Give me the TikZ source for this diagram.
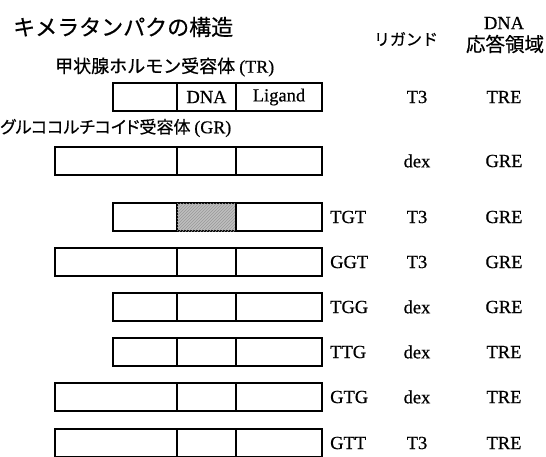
\documentclass[tikz,border=0pt]{standalone}
\usepackage{fontspec}
\setmainfont{Liberation Serif}[FakeBold=0.6]
\newfontfamily\jp{Noto Sans CJK JP}[FakeBold=0.5]
\newfontfamily\jpp{Noto Sans CJK JP}[RawFeature=+palt,FakeBold=0.5]
\usetikzlibrary{patterns}
\begin{document}
\begin{tikzpicture}[x=1pt,y=-1pt,
  cell/.style={draw,line width=2.3pt,minimum height=28pt,inner sep=0pt,outer sep=0pt},
  lab/.style={font=\fontsize{18.5}{20}\selectfont,inner sep=0pt},
  codelab/.style={lab,anchor=west},
  jplab/.style={inner sep=0pt,anchor=west}]
\useasboundingbox (0,0) rectangle (546,456);
% title and headers
\node[font=\jp\fontsize{22}{24}\selectfont,anchor=west,inner sep=0pt] (title) at (13,27) {キメラタンパクの構造};
\node[font=\jp\fontsize{16}{18}\selectfont,inner sep=0pt] (hlig) at (406,39) {リガンド};
\node[lab] (hdna) at (504,23) {DNA};
\node[font=\jp\fontsize{19.5}{20}\selectfont,inner sep=0pt] (hresp) at (505,44) {応答領域};
\node[jplab,font=\jp\fontsize{18}{20}\selectfont] (trname) at (55,67) {甲状腺ホルモン受容体 {\rmfamily\fontsize{18}{20}\selectfont(TR)}};
\node[jplab,font=\jpp\fontsize{17}{20}\selectfont] (grname) at (0,128) {グルココルチコイド受容体 {\rmfamily\fontsize{18}{20}\selectfont(GR)}};
% rows
\foreach \nm/\yy/\long/\code/\lig/\resp/\hatch in {
  tr/97/0//T3/TRE/0, gr/161/1//dex/GRE/0, tgt/217/0/TGT/T3/GRE/1,
  ggt/262/1/GGT/T3/GRE/0, tgg/307/0/TGG/dex/GRE/0, ttg/352/0/TTG/dex/TRE/0,
  gtg/397/1/GTG/dex/TRE/0, gtt/443/1/GTT/T3/TRE/0}{
  \ifnum\long=1
    \node[cell,minimum width=122pt,anchor=east] (\nm a) at (177,\yy) {};
  \else
    \node[cell,minimum width=64pt,anchor=east] (\nm a) at (177,\yy) {};
  \fi
  \ifnum\hatch=1
    \node[cell,minimum width=59pt,anchor=west,fill=black!25,postaction={pattern=north east lines,pattern color=black!40}] (\nm b) at (\nm a.east) {};
  \else
    \node[cell,minimum width=59pt,anchor=west] (\nm b) at (\nm a.east) {};
  \fi
  \node[cell,minimum width=86pt,anchor=west] (\nm c) at (\nm b.east) {};
  \node[codelab] (\nm code) at (330,\yy) {\code};
  \node[lab] (\nm lig) at (417,\yy) {\lig};
  \node[lab] (\nm resp) at (504,\yy) {\resp};
}
\node[lab] (dnatxt) at (trb) {DNA};
\node[lab] (ligtxt) at (trc) {Ligand};
\end{tikzpicture}
\end{document}
